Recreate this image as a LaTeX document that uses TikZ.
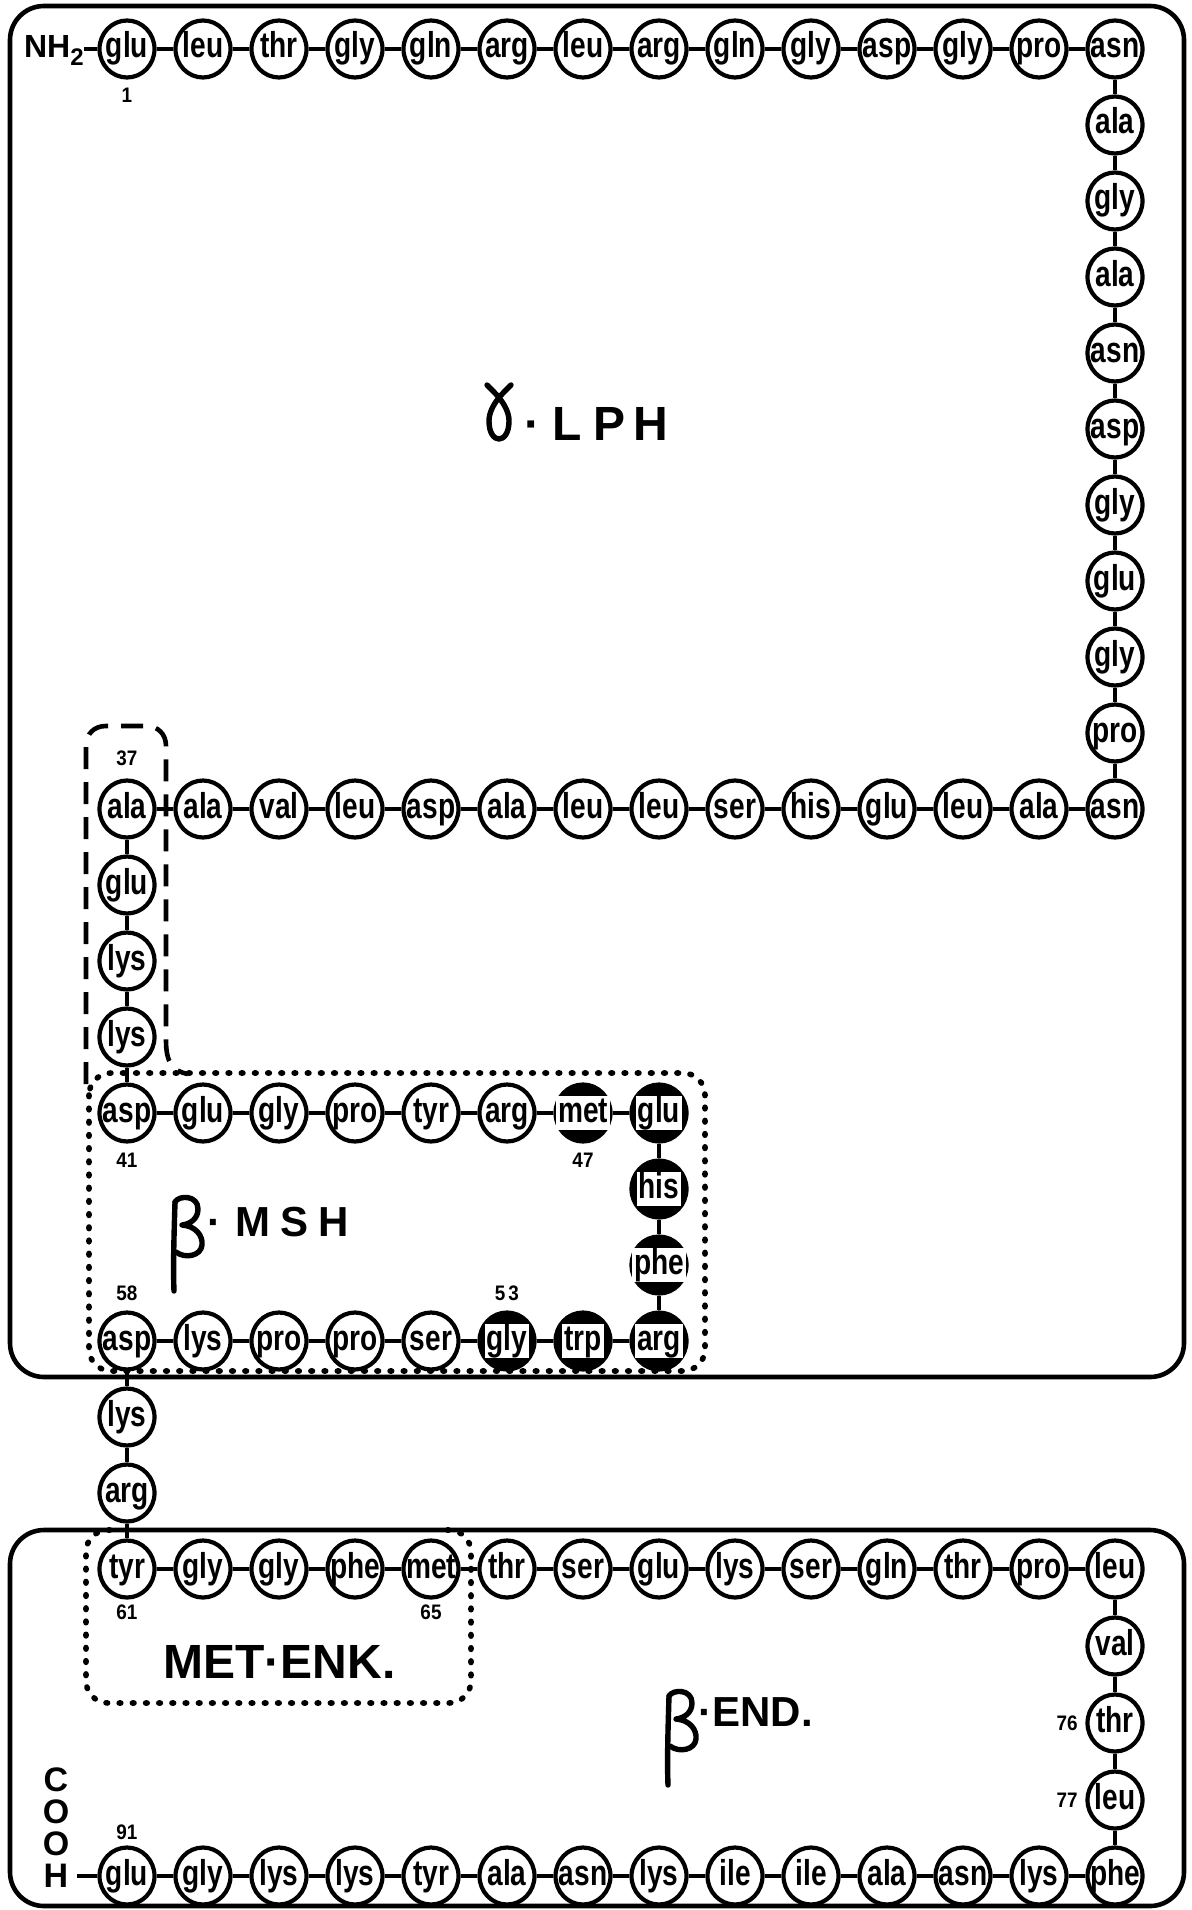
\documentclass[tikz,border=0pt]{standalone}
\usepackage{fontspec}
\setmainfont{Liberation Sans}
\newfontfamily\resfam{Liberation Sans}[FakeStretch=0.78]
\newfontfamily\numfam{Liberation Sans}[FakeStretch=0.9]
\usetikzlibrary{shapes.geometric}
\tikzset{
  resid/.style={ellipse, draw, fill=white, line width=2.1pt, minimum width=27.5pt, minimum height=28.5pt, inner sep=0pt},
  residf/.style={resid, fill=black},
  rtxt/.style={font=\resfam\bfseries\fontsize{18}{18}\selectfont, inner sep=0pt, text height=12.5pt, text depth=3.5pt},
  rtxtw/.style={rtxt, fill=white, inner xsep=1pt, inner ysep=0.5pt},
  bond/.style={line width=1.6pt},
  frame/.style={line width=2.3pt, rounded corners=17pt},
  dotbox/.style={line width=2.8pt, line cap=round, dash pattern=on 0.8pt off 5.8pt, rounded corners=11pt},
  dashbox/.style={line width=2.3pt, dash pattern=on 11pt off 6.5pt},
  num/.style={font=\numfam\bfseries\fontsize{10.5}{11}\selectfont, inner sep=0pt},
  biglbl/.style={font=\bfseries\fontsize{24}{24}\selectfont, inner sep=0pt},
  midlbl/.style={font=\bfseries\fontsize{21}{21}\selectfont, inner sep=0pt},
  endgroup/.style={font=\bfseries\fontsize{17}{17}\selectfont, inner sep=0pt},
  greek/.style={line width=2.7pt, line cap=round, line join=round},
}
\newcommand\putres[4]{\node[resid] (a#1) at (#2,#3) {}; \node[rtxt] (t#1) at (a#1) {#4};}
\newcommand\putresf[4]{\node[residf] (a#1) at (#2,#3) {}; \node[rtxtw] (t#1) at (a#1) {#4};}
\begin{document}
\begin{tikzpicture}[x=0.5pt, y=-0.5pt]
\useasboundingbox (0,0) rectangle (1192,1910);
% frames
\draw[frame] (10,6) rectangle (1184,1377);
\draw[frame] (10,1530) rectangle (1184,1906);
% dashed box around 37-40
\draw[dashbox] (86,1084) -- (86,746) .. controls (86,734) and (94,726) .. (106,726) -- (146,726)
   .. controls (158,726) and (166,734) .. (166,746) -- (166,1040)
   .. controls (166,1062) and (172,1071) .. (188,1074);
% dotted boxes
\draw[dotbox] (89,1073) rectangle (705,1371);
\draw[dotbox] (110,1530) -- (86,1530) -- (86,1703) -- (471,1703) -- (471,1530) -- (447,1530);
% residues
\putres{1}{127}{49}{glu}
\putres{2}{203}{49}{leu}
\putres{3}{279}{49}{thr}
\putres{4}{355}{49}{gly}
\putres{5}{431}{49}{gln}
\putres{6}{507}{49}{arg}
\putres{7}{583}{49}{leu}
\putres{8}{659}{49}{arg}
\putres{9}{735}{49}{gln}
\putres{10}{811}{49}{gly}
\putres{11}{887}{49}{asp}
\putres{12}{963}{49}{gly}
\putres{13}{1039}{49}{pro}
\putres{14}{1115}{49}{asn}
\putres{15}{1115}{125}{ala}
\putres{16}{1115}{201}{gly}
\putres{17}{1115}{277}{ala}
\putres{18}{1115}{353}{asn}
\putres{19}{1115}{429}{asp}
\putres{20}{1115}{505}{gly}
\putres{21}{1115}{581}{glu}
\putres{22}{1115}{657}{gly}
\putres{23}{1115}{733}{pro}
\putres{24}{1115}{809}{asn}
\putres{25}{1039}{809}{ala}
\putres{26}{963}{809}{leu}
\putres{27}{887}{809}{glu}
\putres{28}{811}{809}{his}
\putres{29}{735}{809}{ser}
\putres{30}{659}{809}{leu}
\putres{31}{583}{809}{leu}
\putres{32}{507}{809}{ala}
\putres{33}{431}{809}{asp}
\putres{34}{355}{809}{leu}
\putres{35}{279}{809}{val}
\putres{36}{203}{809}{ala}
\putres{37}{127}{809}{ala}
\putres{38}{127}{885}{glu}
\putres{39}{127}{961}{lys}
\putres{40}{127}{1037}{lys}
\putres{41}{127}{1113}{asp}
\putres{42}{203}{1113}{glu}
\putres{43}{279}{1113}{gly}
\putres{44}{355}{1113}{pro}
\putres{45}{431}{1113}{tyr}
\putres{46}{507}{1113}{arg}
\putresf{47}{583}{1113}{met}
\putresf{48}{659}{1113}{glu}
\putresf{49}{659}{1189}{his}
\putresf{50}{659}{1265}{phe}
\putresf{51}{659}{1341}{arg}
\putresf{52}{583}{1341}{trp}
\putresf{53}{507}{1341}{gly}
\putres{54}{431}{1341}{ser}
\putres{55}{355}{1341}{pro}
\putres{56}{279}{1341}{pro}
\putres{57}{203}{1341}{lys}
\putres{58}{127}{1341}{asp}
\putres{59}{127}{1417}{lys}
\putres{60}{127}{1493}{arg}
\putres{61}{127}{1569}{tyr}
\putres{62}{203}{1569}{gly}
\putres{63}{279}{1569}{gly}
\putres{64}{355}{1569}{phe}
\putres{65}{431}{1569}{met}
\putres{66}{507}{1569}{thr}
\putres{67}{583}{1569}{ser}
\putres{68}{659}{1569}{glu}
\putres{69}{735}{1569}{lys}
\putres{70}{811}{1569}{ser}
\putres{71}{887}{1569}{gln}
\putres{72}{963}{1569}{thr}
\putres{73}{1039}{1569}{pro}
\putres{74}{1115}{1569}{leu}
\putres{75}{1115}{1646}{val}
\putres{76}{1115}{1723}{thr}
\putres{77}{1115}{1800}{leu}
\putres{78}{1115}{1876}{phe}
\putres{79}{1039}{1876}{lys}
\putres{80}{963}{1876}{asn}
\putres{81}{887}{1876}{ala}
\putres{82}{811}{1876}{ile}
\putres{83}{735}{1876}{ile}
\putres{84}{659}{1876}{lys}
\putres{85}{583}{1876}{asn}
\putres{86}{507}{1876}{ala}
\putres{87}{431}{1876}{tyr}
\putres{88}{355}{1876}{lys}
\putres{89}{279}{1876}{lys}
\putres{90}{203}{1876}{gly}
\putres{91}{127}{1876}{glu}
% chain bonds
\foreach \i in {1,...,90} {\pgfmathtruncatemacro\j{\i+1}\draw[bond] (a\i) -- (a\j);}
% termini
\node[font=\bfseries\fontsize{16}{16}\selectfont, inner sep=0pt, anchor=base east] (nh) at (84,58) {NH\raisebox{-4pt}{\fontsize{12}{12}\selectfont 2}};
\draw[bond] (a1) -- (a1.west -| nh.east);
\node[endgroup] (c1) at (56,1780) {C};
\node[endgroup] (o1) at (56,1812) {O};
\node[endgroup] (o2) at (56,1844) {O};
\node[endgroup] (h1) at (56,1876) {H};
\draw[bond, shorten >=4pt] (a91) -- (a91.west -| h1.east);
% position numbers
\node[num] (l1) at (127,95) {1};
\node[num] (l37) at (127,758) {37};
\node[num] (l41) at (127,1160) {41};
\node[num] (l47) at (583,1160) {47};
\node[num] (l58) at (127,1293) {58};
\node[num] (l53) at (507,1293) {5\hspace{1.5pt}3};
\node[num] (l61) at (127,1612) {61};
\node[num] (l65) at (431,1612) {65};
\node[num] (l76) at (1067,1723) {76};
\node[num] (l77) at (1067,1800) {77};
\node[num] (l91) at (127,1832) {91};
% gamma-LPH
\begin{scope}[shift={(485,383)}]
\draw[greek] (2,2) .. controls (8,8) and (24,22) .. (24,38) .. controls (24,50) and (19,56) .. (14,56)
  .. controls (9,56) and (4,50) .. (4,38) .. controls (4,22) and (20,8) .. (26,2);
\end{scope}
\node[biglbl, anchor=base west] (lph) at (524,440) {·\hspace{6pt}L\hspace{6pt}P\hspace{4pt}H};
% beta-MSH
\begin{scope}[shift={(170,1196)}]
\draw[greek] (5,6) .. controls (4,40) and (3,70) .. (4,95);
\draw[greek] (5,6) .. controls (9,-1) and (28,-1) .. (28,13) .. controls (28,23) and (20,28) .. (12,29)
  .. controls (26,30) and (33,40) .. (32,49) .. controls (31,60) and (15,63) .. (6,56);
\end{scope}
\node[midlbl, anchor=base west] (msh) at (207,1236) {·\hspace{7pt}M\hspace{5pt}S\hspace{5pt}H};
% MET-ENK
\node[biglbl, anchor=base west] (enk) at (163,1678) {MET·ENK.};
% beta-END
\begin{scope}[shift={(664,1690)}]
\draw[greek] (5,6) .. controls (4,40) and (3,70) .. (4,95);
\draw[greek] (5,6) .. controls (9,-1) and (28,-1) .. (28,13) .. controls (28,23) and (20,28) .. (12,29)
  .. controls (26,30) and (33,40) .. (32,49) .. controls (31,60) and (15,63) .. (6,56);
\end{scope}
\node[midlbl, anchor=base west] (endl) at (698,1726) {·END.};
\end{tikzpicture}
\end{document}
